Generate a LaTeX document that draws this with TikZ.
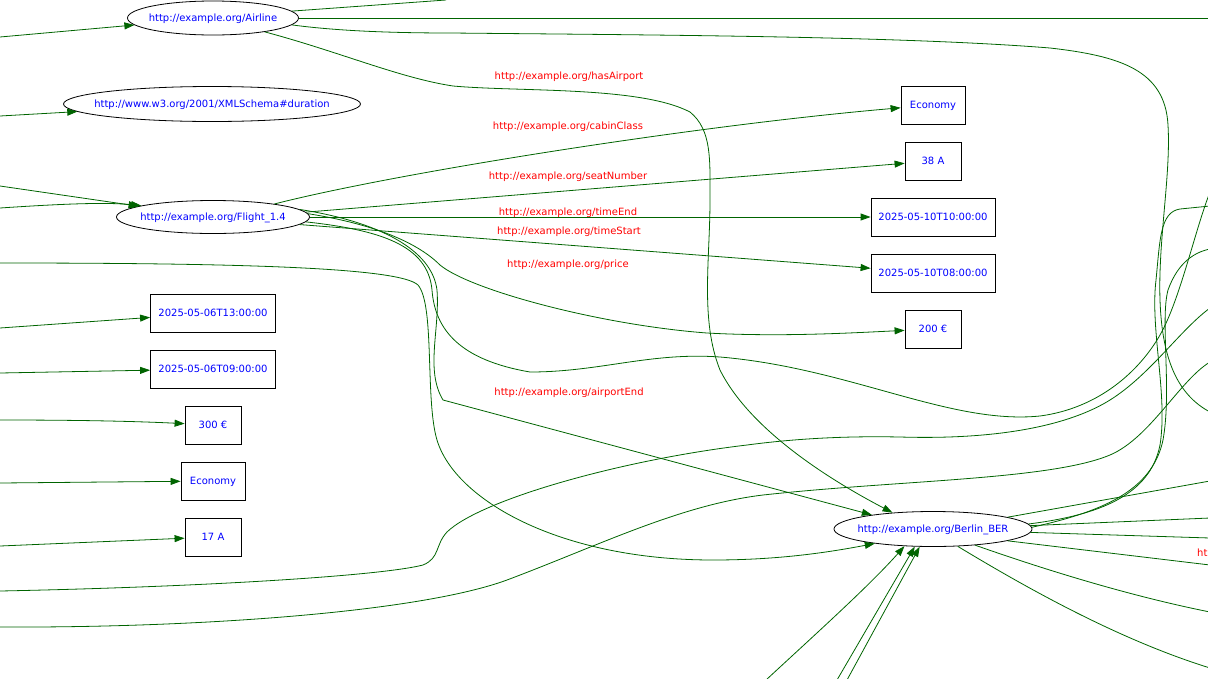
\documentclass[tikz,border=0pt]{standalone}
\usepackage{xcolor}
\usepackage{fontspec}
\setmainfont{DejaVu Sans}
\usepackage{tikz}
\usetikzlibrary{arrows.meta,shapes.geometric}

\definecolor{edgegreen}{RGB}{0,100,0}
\definecolor{iriblue}{RGB}{0,0,255}
\definecolor{propred}{RGB}{255,0,0}
\newcommand{\iritext}[1]{\makebox[0pt]{#1}}

\begin{document}
\begin{tikzpicture}[
  x=1pt, y=-1pt,
  iri/.style={draw, ellipse, line width=0.8pt, inner sep=0pt, text height=7.3pt, text depth=0pt, text=iriblue, font=\fontsize{10}{12}\selectfont},
  lit/.style={draw, rectangle, line width=0.8pt, inner sep=0pt, minimum height=38pt, text height=7.3pt, text depth=0pt, text=iriblue, font=\fontsize{10}{12}\selectfont},
  prop/.style={inner sep=0pt, text height=7.3pt, text depth=0pt, text=propred, font=\fontsize{10}{12}\selectfont},
  rel/.style={edgegreen, line width=0.8pt, -{Triangle[length=10pt,width=7pt]}},
  link/.style={edgegreen, line width=0.8pt}
]
\useasboundingbox (0,0) rectangle (1208,678);

\node[iri, minimum width=171pt, minimum height=34pt] (airline) at (213,18) {\iritext{http://example.org/Airline}};
\node[iri, minimum width=297pt, minimum height=35pt] (duration) at (212,104) {\iritext{http://www.w3.org/2001/XMLSchema\#duration}};
\node[iri, minimum width=193pt, minimum height=33pt] (flight) at (213,217) {\iritext{http://example.org/Flight\_1.4}};
\node[iri, minimum width=198pt, minimum height=35pt] (berlin) at (933,529) {\iritext{http://example.org/Berlin\_BER}};

\node[lit, minimum width=64pt] (cabinR) at (933,105) {Economy};
\node[lit, minimum width=56pt] (seatR) at (933,161) {38 A};
\node[lit, minimum width=124pt] (endR) at (933,217) {2025-05-10T10:00:00};
\node[lit, minimum width=124pt] (startR) at (933,273) {2025-05-10T08:00:00};
\node[lit, minimum width=56pt] (priceR) at (933,329) {200 €};

\node[lit, minimum width=125pt] (endL) at (213,313) {2025-05-06T13:00:00};
\node[lit, minimum width=125pt] (startL) at (213,369) {2025-05-06T09:00:00};
\node[lit, minimum width=56pt] (priceL) at (213,425) {300 €};
\node[lit, minimum width=64pt] (cabinL) at (213,481) {Economy};
\node[lit, minimum width=56pt] (seatL) at (213,537) {17 A};

\node[prop] (hasAirport) at (569,76) {http://example.org/hasAirport};
\node[prop] (cabinClass) at (568,126) {http://example.org/cabinClass};
\node[prop] (seatNumber) at (568,176) {http://example.org/seatNumber};
\node[prop] (timeEnd) at (568,212) {http://example.org/timeEnd};
\node[prop] (timeStart) at (569,231) {http://example.org/timeStart};
\node[prop] (price) at (568,264) {http://example.org/price};
\node[prop] (airportEnd) at (569,392) {http://example.org/airportEnd};
\node[prop, anchor=west] (cutLabel) at (1197,553) {ht};

\coordinate (inA) at (0,37);
\coordinate (inD) at (0,116);
\coordinate (inF1) at (0,186);
\coordinate (inF2) at (0,208);
\coordinate (inB1) at (0,263);
\coordinate (inEL) at (0,328);
\coordinate (inSL) at (0,373);
\coordinate (inPL) at (0,420);
\coordinate (inCL) at (0,483);
\coordinate (inQL) at (0,546);
\coordinate (inB2) at (0,591);
\coordinate (inB3) at (0,627);
\coordinate (inB4) at (766,680);
\coordinate (inB5) at (837,680);
\coordinate (inB6) at (847,680);
\coordinate (outTop) at (446,0);
\coordinate (outA) at (1210,18);
\coordinate (outA2) at (1210,412);
\coordinate (outF) at (1210,192);
\coordinate (outK1) at (1210,206);
\coordinate (outK2) at (1210,249);
\coordinate (outT5) at (1210,308);
\coordinate (outT6) at (1210,362);
\coordinate (outB1) at (1210,481);
\coordinate (outB2) at (1210,518);
\coordinate (outB3) at (1210,538);
\coordinate (outB4) at (1210,565);
\coordinate (outB5) at (1210,612);
\coordinate (outB6) at (1210,668);

\draw[rel] (inA) -- (airline);
\draw[rel] (inD) -- (duration);
\draw[rel] (inF1) -- (flight);
\draw[rel] (inF2) .. controls (60,204) and (105,202) .. (flight.171);
\draw[rel] (inEL) -- (endL);
\draw[rel] (inSL) -- (startL);
\draw[rel] (inPL) .. controls (100,420) and (150,422) .. (priceL);
\draw[rel] (inCL) -- (cabinL);
\draw[rel] (inQL) -- (seatL);

\draw[link] (airline.5) -- (outTop);
\draw[link] (airline) -- (outA);
\draw[link] (airline.-5) .. controls (330,30) and (380,33) .. (451,33) .. controls (650,35) and (900,36) .. (1050,48) .. controls (1120,56) and (1165,70) .. (1168,125) .. controls (1171,175) and (1158,240) .. (1160,300) .. controls (1162,360) and (1178,395) .. (outA2);
\draw[rel] (airline.-15) .. controls (340,52) and (400,78) .. (453,86) .. controls (520,92) and (640,86) .. (690,112) .. controls (712,130) and (710,160) .. (710,200) .. controls (710,260) and (700,320) .. (720,370) .. controls (750,430) and (830,480) .. (berlin.158);

\draw[rel] (flight.12) .. controls (400,172) and (700,125) .. (cabinR);
\draw[rel] (flight.3) -- (seatR);
\draw[rel] (flight) -- (endR);
\draw[rel] (flight.-5) -- (startR);
\draw[rel] (flight.2) .. controls (380,225) and (420,245) .. (440,265) .. controls (470,290) and (600,325) .. (707,333) .. controls (780,337) and (850,333) .. (priceR);
\draw[rel] (flight.5) .. controls (380,222) and (432,250) .. (437,290) .. controls (440,330) and (425,370) .. (443,400) -- (berlin.167);
\draw[link] (flight.-3) .. controls (380,230) and (428,245) .. (432,290) .. controls (435,330) and (460,360) .. (530,372) .. controls (600,372) and (650,352) .. (720,357) .. controls (850,368) and (950,425) .. (1040,416) .. controls (1100,408) and (1140,370) .. (1160,335) .. controls (1180,300) and (1195,230) .. (outF);

\draw[rel] (inB1) .. controls (250,263) and (400,268) .. (418,285) .. controls (435,305) and (425,400) .. (437,440) .. controls (455,500) and (560,560) .. (713,560) .. controls (780,560) and (830,552) .. (berlin.194);
\draw[link] (inB2) .. controls (200,587) and (380,576) .. (423,565) .. controls (440,558) and (435,545) .. (447,532) .. controls (480,500) and (620,460) .. (747,445) .. controls (800,438) and (850,436) .. (900,437) .. controls (1000,440) and (1070,425) .. (1110,400) .. controls (1150,375) and (1180,330) .. (outT5);
\draw[link] (inB3) .. controls (200,628) and (420,612) .. (507,580) .. controls (600,545) and (680,505) .. (763,495) .. controls (900,480) and (1050,480) .. (1110,455) .. controls (1150,438) and (1180,380) .. (outT6);
\draw[rel] (inB4) .. controls (820,630) and (870,585) .. (berlin.211);
\draw[rel] (inB5) -- (berlin.224);
\draw[rel] (inB6) -- (berlin.233);

\draw[link] (berlin.3) .. controls (1100,515) and (1150,495) .. (1160,445) .. controls (1168,395) and (1150,330) .. (1156,280) .. controls (1160,240) and (1160,212) .. (1180,209) -- (outK1);
\draw[link] (berlin.1) .. controls (1100,512) and (1152,492) .. (1163,440) .. controls (1172,390) and (1160,320) .. (1168,290) .. controls (1178,262) and (1195,252) .. (outK2);
\draw[link] (berlin.9) -- (outB1);
\draw[link] (berlin.2) -- (outB2);
\draw[link] (berlin.-2) -- (outB3);
\draw[link] (berlin.-9) -- (outB4);
\draw[link] (berlin.-21) .. controls (1060,575) and (1140,598) .. (outB5);
\draw[link] (berlin.-35) .. controls (1030,590) and (1120,640) .. (outB6);
\end{tikzpicture}
\end{document}
